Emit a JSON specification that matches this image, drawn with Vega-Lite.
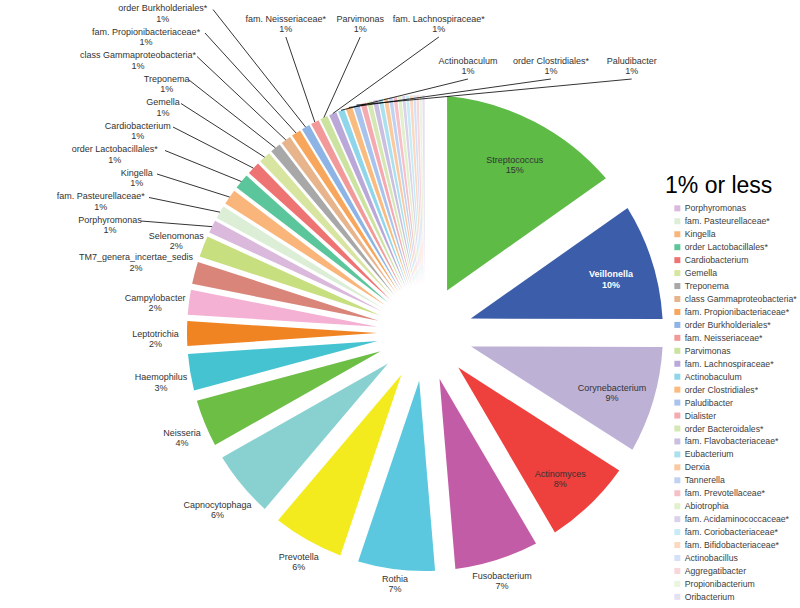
{
  "$schema": "https://vega.github.io/schema/vega-lite/v6.json",
  "width": 750,
  "height": 550,
  "autosize": {"type": "none"},
  "padding": {"left": 50, "top": 58, "right": 0, "bottom": 0},
  "background": "white",
  "config": {
    "view": {"stroke": null},
    "text": {"font": "Liberation Sans, sans-serif", "fontSize": 9, "color": "#333333"}
  },
  "data": {
    "values": [
      {"name": "Streptococcus", "value": 15.2},
      {"name": "Veillonella", "value": 9.8},
      {"name": "Corynebacterium", "value": 9.0},
      {"name": "Actinomyces", "value": 7.5},
      {"name": "Fusobacterium", "value": 7.1},
      {"name": "Rothia", "value": 6.5},
      {"name": "Prevotella", "value": 6.0},
      {"name": "Capnocytophaga", "value": 5.6},
      {"name": "Neisseria", "value": 4.0},
      {"name": "Haemophilus", "value": 3.1},
      {"name": "Leptotrichia", "value": 2.1},
      {"name": "Campylobacter", "value": 2.1},
      {"name": "TM7_genera_incertae_sedis", "value": 1.9},
      {"name": "Selenomonas", "value": 1.8},
      {"name": "Porphyromonas", "value": 1.1},
      {"name": "fam. Pasteurellaceae*", "value": 1.1},
      {"name": "Kingella", "value": 1.3},
      {"name": "order Lactobacillales*", "value": 1.3},
      {"name": "Cardiobacterium", "value": 1.1},
      {"name": "Gemella", "value": 1.0},
      {"name": "Treponema", "value": 0.9},
      {"name": "class Gammaproteobacteria*", "value": 0.85},
      {"name": "fam. Propionibacteriaceae*", "value": 0.8},
      {"name": "order Burkholderiales*", "value": 0.7},
      {"name": "fam. Neisseriaceae*", "value": 0.7},
      {"name": "Parvimonas", "value": 0.65},
      {"name": "fam. Lachnospiraceae*", "value": 0.65},
      {"name": "Actinobaculum", "value": 0.55},
      {"name": "order Clostridiales*", "value": 0.55},
      {"name": "Paludibacter", "value": 0.5},
      {"name": "Dialister", "value": 0.45},
      {"name": "order Bacteroidales*", "value": 0.4},
      {"name": "fam. Flavobacteriaceae*", "value": 0.4},
      {"name": "Eubacterium", "value": 0.35},
      {"name": "Derxia", "value": 0.35},
      {"name": "Tannerella", "value": 0.3},
      {"name": "fam. Prevotellaceae*", "value": 0.3},
      {"name": "Abiotrophia", "value": 0.3},
      {"name": "fam. Acidaminococcaceae*", "value": 0.25},
      {"name": "fam. Coriobacteriaceae*", "value": 0.25},
      {"name": "fam. Bifidobacteriaceae*", "value": 0.25},
      {"name": "Actinobacillus", "value": 0.2},
      {"name": "Aggregatibacter", "value": 0.2},
      {"name": "Propionibacterium", "value": 0.2},
      {"name": "Oribacterium", "value": 0.2}
    ]
  },
  "transform": [
    {"window": [{"op": "row_number", "as": "idx"}]},
    {"window": [{"op": "sum", "field": "value", "as": "cum"}], "sort": [{"field": "idx", "order": "ascending"}], "frame": [null, 0]},
    {"joinaggregate": [{"op": "sum", "field": "value", "as": "total"}]},
    {"calculate": "(datum.cum - datum.value) / datum.total", "as": "f0"},
    {"calculate": "datum.cum / datum.total", "as": "f1"},
    {"calculate": "(datum.f0 + datum.f1) / 2", "as": "fm"},
    {"calculate": "2 * PI * datum.fm", "as": "am"},
    {"calculate": "datum.name + '\\n' + round(datum.value) + '%'", "as": "label"}
  ],
  "layer": [
    {
      "mark": {
        "type": "arc",
        "radius": 238,
        "radius2": 48,
        "padAngle": {"expr": "2 * asin(48 * sin(PI * (datum.f1 - datum.f0)) / sqrt(48 * 48 + 238 * 238))"}
      },
      "encoding": {
        "theta": {"field": "f0", "type": "quantitative", "stack": null, "scale": {"domain": [0, 1], "range": [0, 6.283185307179586]}},
        "theta2": {"field": "f1"},
        "color": {
          "field": "name",
          "type": "nominal",
          "sort": null,
          "scale": {
            "domain": ["Streptococcus", "Veillonella", "Corynebacterium", "Actinomyces", "Fusobacterium", "Rothia", "Prevotella", "Capnocytophaga", "Neisseria", "Haemophilus", "Leptotrichia", "Campylobacter", "TM7_genera_incertae_sedis", "Selenomonas", "Porphyromonas", "fam. Pasteurellaceae*", "Kingella", "order Lactobacillales*", "Cardiobacterium", "Gemella", "Treponema", "class Gammaproteobacteria*", "fam. Propionibacteriaceae*", "order Burkholderiales*", "fam. Neisseriaceae*", "Parvimonas", "fam. Lachnospiraceae*", "Actinobaculum", "order Clostridiales*", "Paludibacter", "Dialister", "order Bacteroidales*", "fam. Flavobacteriaceae*", "Eubacterium", "Derxia", "Tannerella", "fam. Prevotellaceae*", "Abiotrophia", "fam. Acidaminococcaceae*", "fam. Coriobacteriaceae*", "fam. Bifidobacteriaceae*", "Actinobacillus", "Aggregatibacter", "Propionibacterium", "Oribacterium"],
            "range": ["#5DBB46", "#3C5DA9", "#BEB1D6", "#EE403D", "#C25CA6", "#5BC8DF", "#F3EB1E", "#89D1D1", "#6DBE45", "#46C3D1", "#F08322", "#F4B1D4", "#D9857A", "#C8DF7F", "#DAB9DC", "#DCEED6", "#F9B57A", "#5BC69B", "#EE7474", "#D7E5A0", "#A8A8A8", "#E8B48C", "#F8A65B", "#8DB4E4", "#F29A9A", "#CCE3A0", "#BAA9D8", "#8FD6EA", "#F9BB7E", "#A8C3EC", "#F5A9B1", "#D5E8B3", "#CABFE1", "#ABE1EF", "#FAC9A0", "#BFD2F1", "#F7BFC6", "#E2F0CC", "#D9D2EA", "#C8ECF5", "#FBD8BF", "#D4E1F6", "#F9D6DA", "#EAF4DF", "#E5E1F1"]
          },
          "legend": {
            "title": "1% or less",
            "orient": "none",
            "legendX": 615,
            "legendY": 117,
            "padding": 0,
            "titleFont": "Liberation Sans, sans-serif",
            "titleFontSize": 23,
            "titleFontWeight": "normal",
            "titleColor": "#000000",
            "titlePadding": 6,
            "symbolType": "square",
            "symbolSize": 36,
            "symbolStrokeWidth": 0,
            "symbolOffset": 8,
            "symbolLimit": 60,
            "labelFont": "Liberation Sans, sans-serif",
            "labelFontSize": 8.7,
            "labelColor": "#404040",
            "labelOffset": 3,
            "labelLimit": 200,
            "rowPadding": 2.95,
            "values": ["Porphyromonas", "fam. Pasteurellaceae*", "Kingella", "order Lactobacillales*", "Cardiobacterium", "Gemella", "Treponema", "class Gammaproteobacteria*", "fam. Propionibacteriaceae*", "order Burkholderiales*", "fam. Neisseriaceae*", "Parvimonas", "fam. Lachnospiraceae*", "Actinobaculum", "order Clostridiales*", "Paludibacter", "Dialister", "order Bacteroidales*", "fam. Flavobacteriaceae*", "Eubacterium", "Derxia", "Tannerella", "fam. Prevotellaceae*", "Abiotrophia", "fam. Acidaminococcaceae*", "fam. Coriobacteriaceae*", "fam. Bifidobacteriaceae*", "Actinobacillus", "Aggregatibacter", "Propionibacterium", "Oribacterium"]
          }
        }
      }
    },
    {
      "transform": [
        {"filter": "datum.idx >= 15 && datum.idx <= 30"},
        {"calculate": "datum.idx - 15", "as": "k"},
        {"calculate": "length(datum.name) * 4.3", "as": "w"},
        {"calculate": "datum.k < 10 ? 0 : (datum.k < 13 ? 1 : 2)", "as": "grp"},
        {"calculate": "datum.w + 12", "as": "tw"},
        {"window": [{"op": "sum", "field": "tw", "as": "cs"}], "groupby": ["grp"], "sort": [{"field": "idx", "order": "ascending"}], "frame": [null, 0]},
        {"calculate": "datum.grp == 0 ? (-287 + 8 * datum.k - datum.w / 2) : ((datum.grp == 1 ? -180 : 15) + datum.cs - datum.tw + datum.w / 2)", "as": "lx"},
        {"calculate": "datum.grp == 0 ? (-112 - 23.5 * datum.k) : (datum.grp == 1 ? -313 : -271)", "as": "lyn"},
        {"calculate": "datum.lyn - 5.5", "as": "ly"},
        {"calculate": "datum.grp == 0 ? (-287 + 8 * datum.k + 3) : datum.lx", "as": "x1"},
        {"calculate": "datum.grp == 0 ? datum.lyn : datum.lyn + 17", "as": "y1"},
        {"calculate": "238 * sin(datum.am)", "as": "x2"},
        {"calculate": "-238 * cos(datum.am)", "as": "y2"}
      ],
      "layer": [
        {
          "mark": {"type": "rule", "color": "#000000", "strokeWidth": 0.8},
          "encoding": {
            "x": {"field": "x1", "type": "quantitative", "scale": {"domain": [-375, 375], "nice": false, "zero": false}, "axis": null},
            "y": {"field": "y1", "type": "quantitative", "scale": {"domain": [-275, 275], "reverse": true, "nice": false, "zero": false}, "axis": null},
            "x2": {"field": "x2"},
            "y2": {"field": "y2"}
          }
        },
        {
          "mark": {"type": "text", "align": "center", "baseline": "top", "lineBreak": "\n", "lineHeight": 10.5},
          "encoding": {
            "x": {"field": "lx", "type": "quantitative", "axis": null},
            "y": {"field": "ly", "type": "quantitative", "axis": null},
            "text": {"field": "label", "type": "nominal"}
          }
        }
      ]
    },
    {
      "transform": [
        {"filter": "datum.idx <= 14 && datum.value < 7.5"},
        {"calculate": "242 + abs(sin(datum.am)) * length(datum.name) * 2.3 + abs(cos(datum.am)) * 4", "as": "lr"}
      ],
      "mark": {"type": "text", "align": "center", "baseline": "middle", "lineBreak": "\n", "lineHeight": 10.5},
      "encoding": {
        "theta": {"field": "fm", "type": "quantitative", "stack": null},
        "radius": {"field": "lr", "type": "quantitative", "scale": null},
        "text": {"field": "label", "type": "nominal"}
      }
    },
    {
      "transform": [{"filter": "datum.value >= 7.5"}],
      "mark": {"type": "text", "align": "center", "baseline": "middle", "lineBreak": "\n", "lineHeight": 10.5, "radius": 195,
        "fontWeight": {"expr": "datum.name === 'Veillonella' ? 'bold' : 'normal'"}},
      "encoding": {
        "theta": {"field": "fm", "type": "quantitative", "stack": null},
        "text": {"field": "label", "type": "nominal"},
        "color": {"condition": {"test": "datum.name === 'Veillonella'", "value": "#FFFFFF"}, "value": "#333333"}
      }
    }
  ]
}
